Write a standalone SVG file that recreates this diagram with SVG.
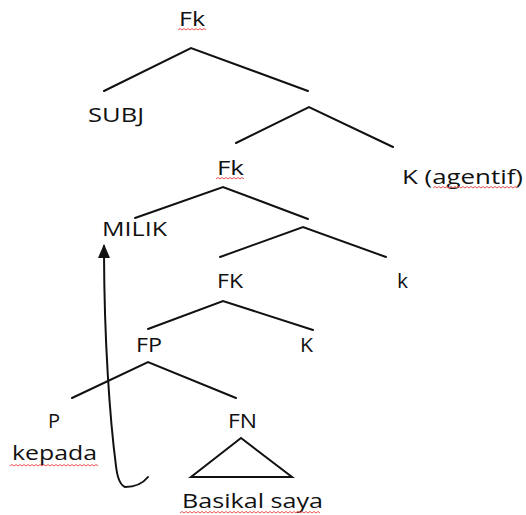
<svg xmlns="http://www.w3.org/2000/svg" width="526" height="515" viewBox="0 0 526 515">
  <defs>
    <style>
      .lbl { font-family: "Open Sans", "Liberation Sans", sans-serif; font-size: 20px; fill: #111; }
      .edge { stroke: #111; stroke-width: 2; fill: none; stroke-linecap: round; }
      .wavy { stroke: #e8534f; stroke-width: 1; fill: none; }
    </style>
    <marker id="arrowhead" viewBox="0 0 14 12" refX="12" refY="6" markerWidth="14" markerHeight="12" markerUnits="userSpaceOnUse" orient="auto">
      <path d="M0,0 L14,6 L0,12 Z" fill="#111"/>
    </marker>
  </defs>
  <rect width="526" height="515" fill="#fff"/>

  <!-- tree branches -->
  <g id="connectors">
    <polyline class="edge" points="104,91 191,48 308,91"/>
    <polyline class="edge" points="236,143 309,107 393,147"/>
    <polyline class="edge" points="135,218 223,187 308,219"/>
    <polyline class="edge" points="220,257 303,227 386,257"/>
    <polyline class="edge" points="148,329 223,301 313,330"/>
    <polyline class="edge" points="72,398 148,362 236,398"/>
    <polygon class="edge" points="241,438 191,477 292,477"/>
    <!-- movement arrow from the noun phrase up to MILIK -->
    <path class="edge" d="M148,477 Q140,487 125,487 Q118,484 116,466 C110,420 104,340 104,246" marker-end="url(#arrowhead)"/>
  </g>

  <!-- nodes -->
  <g id="n-fk-root">
    <text class="lbl" x="179" y="26" textLength="26" lengthAdjust="spacingAndGlyphs">Fk</text>
    <path class="wavy" d="M178,30 l2,-1.5 l2,1.5 l2,-1.5 l2,1.5 l2,-1.5 l2,1.5 l2,-1.5 l2,1.5 l2,-1.5 l2,1.5 l2,-1.5 l2,1.5 l2,-1.5 l2,1.5"/>
  </g>
  <g id="n-subj">
    <text class="lbl" x="88" y="122" textLength="56" lengthAdjust="spacingAndGlyphs">SUBJ</text>
  </g>
  <g id="n-fk-mid">
    <text class="lbl" x="217" y="175" textLength="27" lengthAdjust="spacingAndGlyphs">Fk</text>
    <path class="wavy" d="M216,179 l2,-1.5 l2,1.5 l2,-1.5 l2,1.5 l2,-1.5 l2,1.5 l2,-1.5 l2,1.5 l2,-1.5 l2,1.5 l2,-1.5 l2,1.5 l2,-1.5 l2,1.5"/>
  </g>
  <g id="n-k-agentif">
    <text class="lbl" x="402" y="184" textLength="121" lengthAdjust="spacingAndGlyphs">K (agentif)</text>
    <path class="wavy" d="M433,188 l2,-1.5 l2,1.5 l2,-1.5 l2,1.5 l2,-1.5 l2,1.5 l2,-1.5 l2,1.5 l2,-1.5 l2,1.5 l2,-1.5 l2,1.5 l2,-1.5 l2,1.5 l2,-1.5 l2,1.5 l2,-1.5 l2,1.5 l2,-1.5 l2,1.5 l2,-1.5 l2,1.5 l2,-1.5 l2,1.5 l2,-1.5 l2,1.5 l2,-1.5 l2,1.5 l2,-1.5 l2,1.5 l2,-1.5 l2,1.5 l2,-1.5 l2,1.5 l2,-1.5 l2,1.5 l2,-1.5 l2,1.5 l2,-1.5 l2,1.5 l2,-1.5 l2,1.5"/>
  </g>
  <g id="n-milik">
    <text class="lbl" x="102" y="236" textLength="65" lengthAdjust="spacingAndGlyphs">MILIK</text>
  </g>
  <g id="n-FK">
    <text class="lbl" x="217" y="288" textLength="26" lengthAdjust="spacingAndGlyphs">FK</text>
  </g>
  <g id="n-k-small">
    <text class="lbl" x="397" y="288" textLength="11" lengthAdjust="spacingAndGlyphs">k</text>
  </g>
  <g id="n-fp">
    <text class="lbl" x="136" y="352" textLength="26" lengthAdjust="spacingAndGlyphs">FP</text>
  </g>
  <g id="n-K">
    <text class="lbl" x="300" y="352" textLength="13" lengthAdjust="spacingAndGlyphs">K</text>
  </g>
  <g id="n-p">
    <text class="lbl" x="48" y="428" textLength="12" lengthAdjust="spacingAndGlyphs">P</text>
    <text class="lbl" x="12" y="460" textLength="85" lengthAdjust="spacingAndGlyphs">kepada</text>
    <path class="wavy" d="M10,466 l2,-1.5 l2,1.5 l2,-1.5 l2,1.5 l2,-1.5 l2,1.5 l2,-1.5 l2,1.5 l2,-1.5 l2,1.5 l2,-1.5 l2,1.5 l2,-1.5 l2,1.5 l2,-1.5 l2,1.5 l2,-1.5 l2,1.5 l2,-1.5 l2,1.5 l2,-1.5 l2,1.5 l2,-1.5 l2,1.5 l2,-1.5 l2,1.5 l2,-1.5 l2,1.5 l2,-1.5 l2,1.5 l2,-1.5 l2,1.5 l2,-1.5 l2,1.5 l2,-1.5 l2,1.5 l2,-1.5 l2,1.5 l2,-1.5 l2,1.5 l2,-1.5 l2,1.5 l2,-1.5 l2,1.5"/>
  </g>
  <g id="n-fn">
    <text class="lbl" x="228" y="428" textLength="29" lengthAdjust="spacingAndGlyphs">FN</text>
    <text class="lbl" x="182" y="508" textLength="141" lengthAdjust="spacingAndGlyphs">Basikal saya</text>
    <path class="wavy" d="M180,513 l2,-1.5 l2,1.5 l2,-1.5 l2,1.5 l2,-1.5 l2,1.5 l2,-1.5 l2,1.5 l2,-1.5 l2,1.5 l2,-1.5 l2,1.5 l2,-1.5 l2,1.5 l2,-1.5 l2,1.5 l2,-1.5 l2,1.5 l2,-1.5 l2,1.5 l2,-1.5 l2,1.5 l2,-1.5 l2,1.5 l2,-1.5 l2,1.5 l2,-1.5 l2,1.5 l2,-1.5 l2,1.5 l2,-1.5 l2,1.5 l2,-1.5 l2,1.5 l2,-1.5 l2,1.5 l2,-1.5 l2,1.5 l2,-1.5 l2,1.5 l2,-1.5 l2,1.5 l2,-1.5 l2,1.5 l2,-1.5 l2,1.5 l2,-1.5 l2,1.5 l2,-1.5 l2,1.5 l2,-1.5 l2,1.5 l2,-1.5 l2,1.5 l2,-1.5 l2,1.5 l2,-1.5 l2,1.5 l2,-1.5 l2,1.5 l2,-1.5 l2,1.5 l2,-1.5 l2,1.5 l2,-1.5 l2,1.5 l2,-1.5 l2,1.5 l2,-1.5 l2,1.5"/>
  </g>
</svg>
